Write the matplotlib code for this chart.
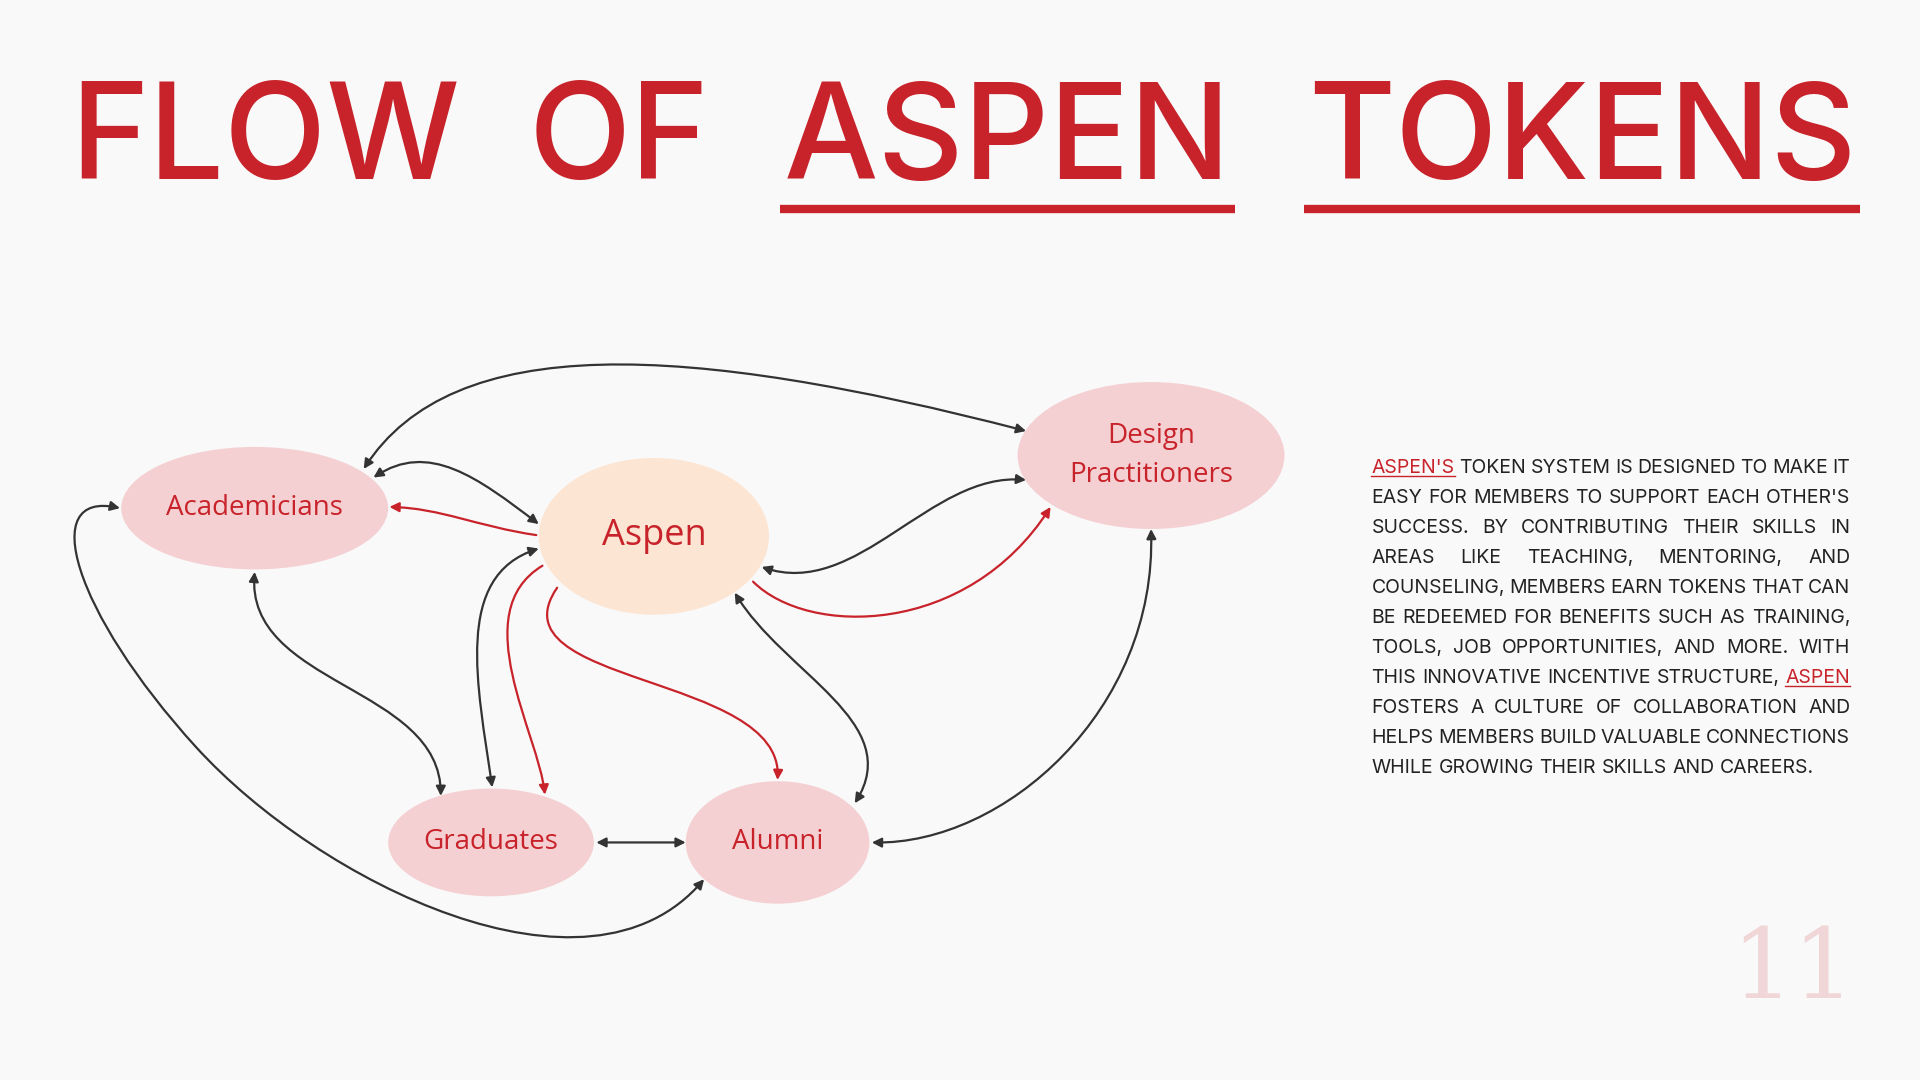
import matplotlib
matplotlib.use("Agg")
import matplotlib.pyplot as plt
from matplotlib.patches import Ellipse, FancyArrowPatch
from matplotlib.path import Path

RED = "#c8232a"
DARK = "#333333"
PINK = "#f5d0d3"
PEACH = "#fde5d3"

title_words = ["FLOW", "OF", "ASPEN", "TOKENS"]
title_x = [57, 432, 640, 1068]
underlined_title = ["ASPEN", "TOKENS"]

nodes = ["Academicians", "Aspen", "Design\nPractitioners", "Graduates", "Alumni"]
node_xy = [(208, 415), (534, 438), (940, 372), (401, 688), (635, 688)]
node_wh = [(218, 100), (188, 128), (218, 120), (168, 88), (150, 100)]
node_col = [PINK, PEACH, PINK, PINK, PINK]
node_fs = [20, 26, 20, 20, 20]

body_lines = [
    "ASPEN'S TOKEN SYSTEM IS DESIGNED TO MAKE IT",
    "EASY FOR MEMBERS TO SUPPORT EACH OTHER'S",
    "SUCCESS. BY CONTRIBUTING THEIR SKILLS IN",
    "AREAS LIKE TEACHING, MENTORING, AND",
    "COUNSELING, MEMBERS EARN TOKENS THAT CAN",
    "BE REDEEMED FOR BENEFITS SUCH AS TRAINING,",
    "TOOLS, JOB OPPORTUNITIES, AND MORE. WITH",
    "THIS INNOVATIVE INCENTIVE STRUCTURE, ASPEN",
    "FOSTERS A CULTURE OF COLLABORATION AND",
    "HELPS MEMBERS BUILD VALUABLE CONNECTIONS",
    "WHILE GROWING THEIR SKILLS AND CAREERS.",
]
red_words = {(0, 0), (7, 4)}

# edges: path points (cubic bezier in display coords), style, colour
edges = [
    ([(297, 383), (370, 270), (560, 280), (838, 352)], "<|-|>", DARK),
    ([(440, 428), (390, 390), (350, 360), (305, 390)], "<|-|>", DARK),
    ([(438, 437), (390, 430), (360, 415), (318, 414)], "-|>", RED),
    ([(622, 463), (700, 490), (760, 385), (838, 392)], "<|-|>", DARK),
    ([(615, 475), (660, 520), (790, 520), (858, 414)], "-|>", RED),
    ([(208, 467), (200, 560), (360, 560), (360, 650)], "<|-|>", DARK),
    ([(440, 448), (370, 470), (390, 560), (402, 643)], "<|-|>", DARK),
    ([(443, 462), (380, 500), (440, 600), (445, 649)], "-|>", RED),
    ([(455, 480), (400, 560), (640, 550), (635, 637)], "-|>", RED),
    ([(600, 484), (640, 550), (740, 590), (698, 656)], "<|-|>", DARK),
    ([(487, 688), (510, 688), (540, 688), (560, 688)], "<|-|>", DARK),
    ([(940, 432), (945, 580), (820, 690), (712, 688)], "<|-|>", DARK),
]
big_loop = [(98, 415), (30, 400), (60, 500), (160, 610), (260, 720), (480, 830), (575, 718)]

fig = plt.figure(figsize=(19.2, 10.8), dpi=100)
fig.patch.set_facecolor("#f9f9f9")
ax = fig.add_axes([0, 0, 1, 1])
ax.set_xlim(0, 1568)
ax.set_ylim(882, 0)
ax.axis("off")
K = 1568 / 1920  # px -> data units

r = fig.canvas.get_renderer()

def width(t):
    return t.get_window_extent(renderer=r).width * K

# title
for w, x in zip(title_words, title_x):
    t = ax.text(x, 146, w, fontsize=96, color=RED, family="Inter", fontweight="medium",
                va="baseline", ha="left")
    if w in underlined_title:
        tw = width(t)
        ax.plot([x - 3, x + tw + 3], [171, 171], color=RED, lw=6, solid_capstyle="butt")

# nodes
for n, (x, y), (w, h), c, fs in zip(nodes, node_xy, node_wh, node_col, node_fs):
    ax.add_patch(Ellipse((x, y), w, h, facecolor=c, edgecolor="none", zorder=2))
    ax.text(x, y, n, ha="center", va="center", color=RED, fontsize=fs,
            family="Open Sans", linespacing=1.5, zorder=3)

# edges
for pts, st, c in edges:
    p = Path(pts, [Path.MOVETO, Path.CURVE4, Path.CURVE4, Path.CURVE4])
    ax.add_patch(FancyArrowPatch(path=p, arrowstyle=st, mutation_scale=14, color=c, lw=1.6, zorder=1))
codes = [Path.MOVETO] + [Path.CURVE4] * 6
ax.add_patch(FancyArrowPatch(path=Path(big_loop, codes), arrowstyle="<|-|>",
                             mutation_scale=14, color=DARK, lw=1.6, zorder=1))

# body text, justified
x0, x1 = 1120, 1511
y0, dy = 386, 24.5
fs_body = 14
for i, line in enumerate(body_lines):
    words = line.split()
    y = y0 + i * dy
    arts = []
    for j, w in enumerate(words):
        c = RED if (i, j) in red_words else "#222222"
        arts.append(ax.text(0, y, w, fontsize=fs_body, family="Inter", color=c, va="baseline"))
    ws = [width(a) for a in arts]
    if i == len(body_lines) - 1:
        gap = width(ax.text(0, 0, "a a", fontsize=fs_body, family="Inter", alpha=0)) - \
              width(ax.text(0, 0, "aa", fontsize=fs_body, family="Inter", alpha=0))
    else:
        gap = (x1 - x0 - sum(ws)) / (len(words) - 1)
    x = x0
    for j, (a, w) in enumerate(zip(arts, ws)):
        a.set_x(x)
        if (i, j) in red_words:
            ax.plot([x, x + w], [y + 3, y + 3], color=RED, lw=1)
        x += w + gap

ax.text(1515, 815, "11", fontsize=70, family="DejaVu Serif", color="#f0d6d6", ha="right", va="baseline")

fig.savefig("out.png", dpi=100, facecolor=fig.get_facecolor())
